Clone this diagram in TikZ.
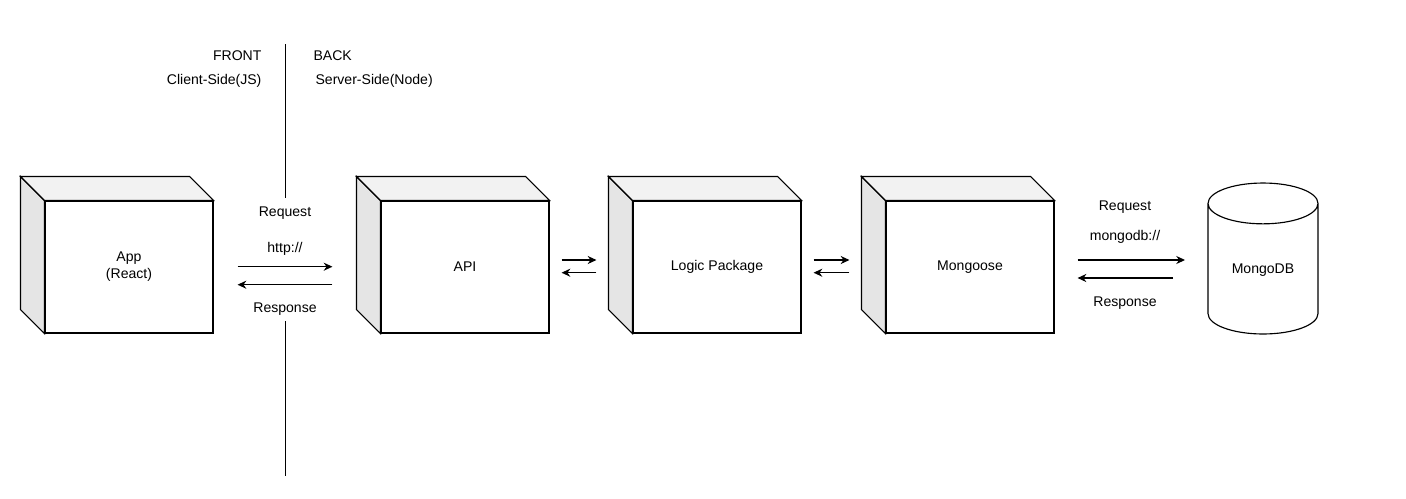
\documentclass[tikz,border=0pt]{standalone}
\usepackage{fontspec}
\setmainfont{Liberation Sans}
\usetikzlibrary{arrows.meta, shapes.geometric}

\tikzset{
  box/.style={draw, fill=white, minimum width=3.36cm, minimum height=2.64cm, font=\fontsize{8}{9.6}\selectfont, align=center},
  lbl/.style={font=\fontsize{8}{9.6}\selectfont, inner sep=0pt},
  arr/.style={-{Stealth[length=5pt,width=4.6pt]}},
}

\begin{document}
\begin{tikzpicture}[x=0.02cm, y=-0.02cm, line width=0.65pt]
\useasboundingbox (0,0) rectangle (1406,498);

% front / back split
\node[lbl, anchor=east] (front) at (262,56) {FRONT};
\node[lbl, anchor=east] (client) at (262,81) {Client-Side(JS)};
\node[lbl, anchor=west] (back) at (313,56) {BACK};
\node[lbl, anchor=west] (server) at (315,81) {Server-Side(Node)};
\draw[line width=0.55pt] (285,44) -- (285,198);
\draw[line width=0.55pt] (285,321) -- (285,476);

% draw boxes
\node[box] (app) at (129,267) {App\\(React)};
\node[box] (api) at (465,267) {API};
\node[box] (logic) at (717,267) {Logic Package};
\node[box] (mongoose) at (970,267) {Mongoose};

% draw box depth
\foreach \n in {app, api, logic, mongoose}{
\draw[fill=black!10] (\n.north west) -- ++(-24,-24) -- ([shift={(-24,-24)}]\n.south west) -- (\n.south west) -- cycle;
\draw[fill=black!5] (\n.north west) -- ++(-24,-24) -- ([shift={(-24,-24)}]\n.north east) -- (\n.north east) -- cycle;
}

% draw database
\node (mongodb) [cylinder, shape border rotate=90, draw, aspect=0.55, minimum height=3.02cm, minimum width=2.2cm, anchor=shape center, font=\fontsize{8}{9.6}\selectfont] at (1263,258.5) {\raisebox{0pt}[0pt][0pt]{MongoDB}};

% request / response to api
\node[lbl] (req) at (285,213) {Request};
\node[lbl] (http) at (285,249) {http://};
\node[lbl] (resp) at (285,309) {Response};
\draw[arr] ([shift={(24,-0.3)}]app.east) -- ([shift={(-48,-0.3)}]api.west);
\draw[arr] ([shift={(-48,17.7)}]api.west) -- ([shift={(24,17.7)}]app.east);

% arrows between boxes
\foreach \a/\b in {api/logic, logic/mongoose}{
\draw[arr] ([shift={(12,-7)}]\a.east) -- ([shift={(-36,-7)}]\b.west);
\draw[arr] ([shift={(-36,5.7)}]\b.west) -- ([shift={(12,5.7)}]\a.east);
}

% request / response to database
\node[lbl] (dbreq) at (1125,207) {Request};
\node[lbl] (dburl) at (1125,237) {mongodb://};
\node[lbl] (dbresp) at (1125,303) {Response};
\draw[arr] ([shift={(23,-7)}]mongoose.east) -- (1185,260);
\draw[arr] (1173,278) -- ([shift={(23,11)}]mongoose.east);

\end{tikzpicture}
\end{document}
